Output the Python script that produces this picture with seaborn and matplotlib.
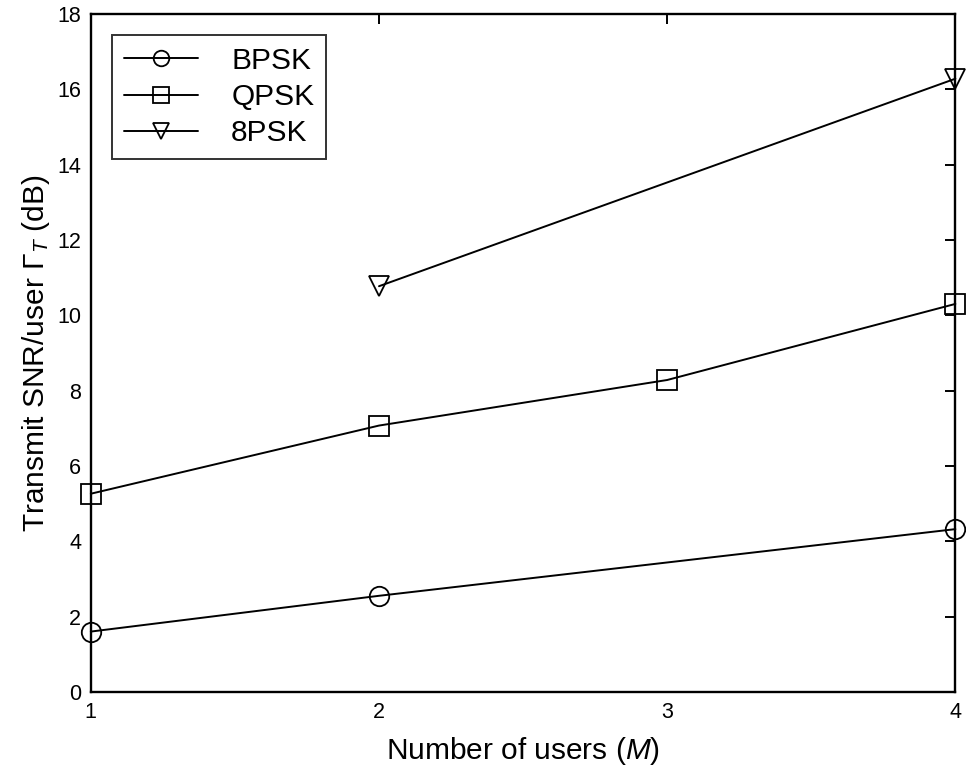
import numpy as np
import pandas as pd
import seaborn as sns
import matplotlib.pyplot as plt

users_bpsk = [1, 2, 4]
snr_bpsk = [1.6, 2.55, 4.32]
users_qpsk = [1, 2, 3, 4]
snr_qpsk = [5.26, 7.07, 8.28, 10.3]
users_8psk = [2, 4]
snr_8psk = [10.77, 16.28]

series = [
    ("BPSK", users_bpsk, snr_bpsk, "o"),
    ("QPSK", users_qpsk, snr_qpsk, "s"),
    ("8PSK", users_8psk, snr_8psk, "v"),
]

sns.set_style("white")
plt.rcParams["font.family"] = ["Liberation Sans", "DejaVu Sans"]
plt.rcParams["mathtext.fontset"] = "custom"
plt.rcParams["mathtext.rm"] = "Liberation Sans"
plt.rcParams["mathtext.it"] = "Liberation Sans:italic"
plt.rcParams["text.color"] = "black"
plt.rcParams["axes.labelcolor"] = "black"

fig, ax = plt.subplots(figsize=(9.66, 7.73), dpi=100)

for name, xs, ys, mk in series:
    df = pd.DataFrame({"users": xs, "snr": ys})
    sns.lineplot(data=df, x="users", y="snr", ax=ax, color="black", lw=1.4,
                 marker=mk, markersize=14, mfc="none", mec="black", mew=1.3,
                 label=name, clip_on=False)

ax.set_xlim(1, 4)
ax.set_ylim(0, 18)
ax.set_xticks([1, 2, 3, 4])
ax.set_yticks(np.arange(0, 19, 2))
ax.tick_params(direction="in", top=True, right=True, length=7, width=1.4,
               labelsize=15.5, pad=7, colors="black")
for s in ax.spines.values():
    s.set_color("black")
    s.set_linewidth(1.7)

ax.set_xlabel("Number of users ($\\mathit{M}$)", fontsize=21.5, labelpad=9)
ax.set_ylabel("Transmit SNR/user $\\Gamma_T$ (dB)", fontsize=21.5, labelpad=4)

leg = ax.legend(loc="upper left", fontsize=21.5, frameon=True, fancybox=False,
                edgecolor="black", handlelength=2.5, handletextpad=1.1,
                borderpad=0.4, labelspacing=0.28, borderaxespad=0.7,
                markerscale=0.8)
leg.get_frame().set_linewidth(1.4)

fig.subplots_adjust(left=0.094, right=0.989, top=0.982, bottom=0.105)
fig.savefig("out.png", dpi=100)
